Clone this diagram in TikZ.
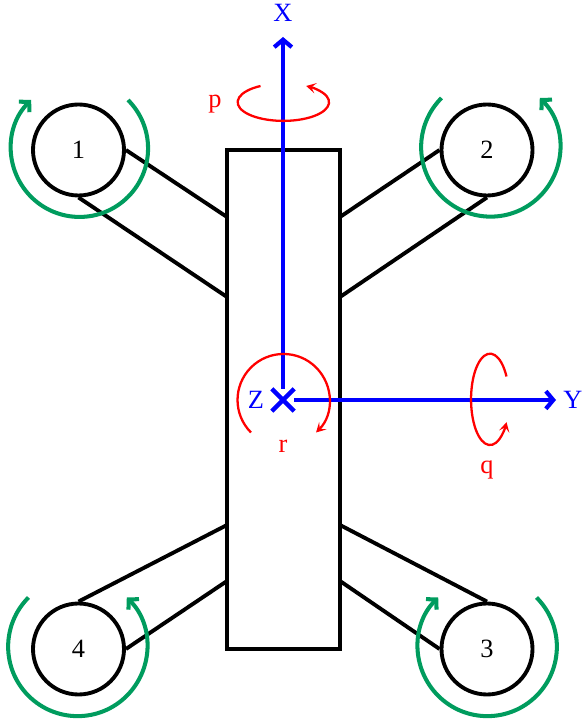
\documentclass[tikz,border=0pt]{standalone}
\usepackage{fontspec}
\setmainfont{Liberation Serif}
\usetikzlibrary{shapes.misc,arrows.meta}
\definecolor{spingreen}{RGB}{0,156,94}

\begin{document}
\begin{tikzpicture}[font=\fontsize{15}{17}\selectfont,
    frame/.style={draw,line width=2.3pt,minimum width=2.26cm,minimum height=9.98cm},
    motor/.style={draw,circle,line width=2.2pt,minimum size=1.82cm,inner sep=0pt},
    arm/.style={line width=2.2pt},
    spin/.style={-{Straight Barb[length=4pt,width=8.5pt]},line width=2.3pt,spingreen},
    axis/.style={-{Straight Barb[length=4.2pt,width=10pt]},line width=2.4pt,blue},
    rate/.style={-{Stealth[length=5.5pt,width=6pt,inset=2.5pt]},line width=1.3pt,red},
    axlab/.style={text=blue,inner sep=0pt},
    ratelab/.style={text=red,inner sep=0pt}]
  \useasboundingbox (0,0) rectangle (11.66,14.46);

  % body and motors
  \node[frame] (body) at (5.67,6.47) {};
  \node[motor] (m1) at (1.57,11.46) {1};
  \node[motor] (m2) at (9.74,11.46) {2};
  \node[motor] (m3) at (9.74,1.48)  {3};
  \node[motor] (m4) at (1.57,1.48)  {4};

  % arm ends on the body
  \coordinate (a1) at (4.54,10.12);
  \coordinate (b1) at (4.54,8.52);
  \coordinate (a2) at (6.80,10.12);
  \coordinate (b2) at (6.80,8.52);
  \coordinate (a3) at (6.80,3.96);
  \coordinate (b3) at (6.80,2.84);
  \coordinate (a4) at (4.54,3.96);
  \coordinate (b4) at (4.54,2.84);

  % --- arms ---
  \draw[arm] (m1.east) -- (a1);
  \draw[arm] (m1.south) -- (b1);
  \draw[arm] (m2.west) -- (a2);
  \draw[arm] (m2.south) -- (b2);
  \draw[arm] (m3.north) -- (a3);
  \draw[arm] (m3.west) -- (b3);
  \draw[arm] (m4.north) -- (a4);
  \draw[arm] (m4.east) -- (b4);

  % --- motor spin ---
  \draw[spin] (2.56,12.46) arc[start angle=45,end angle=-225,radius=1.37];
  \draw[spin] (8.83,12.50) arc[start angle=135,end angle=405,radius=1.39];
  \draw[spin] (10.73,2.51) arc[start angle=45,end angle=-225,radius=1.39];
  \draw[spin] (0.57,2.51) arc[start angle=135,end angle=405,radius=1.39];

  % --- body axes ---
  \node[draw=blue,cross out,line width=2.5pt,minimum size=0.36cm,inner sep=0pt] (axisz) at (5.66,6.46) {};
  \coordinate (tipx) at (5.66,13.72);
  \coordinate (tipy) at (11.12,6.46);
  \draw[axis] (axisz) -- (tipx);
  \draw[axis] (axisz) -- (tipy);
  \node[axlab] (labx) at (5.66,14.2) {X};
  \node[axlab] (laby) at (11.46,6.46) {Y};
  \node[axlab] (labz) at (5.12,6.46) {Z};

  % --- body rates ---
  \draw[rate] (5.21,12.74) arc[start angle=120,end angle=420,x radius=0.914,y radius=0.374];
  \draw[rate] (10.13,6.93) arc[start angle=30,end angle=330,x radius=0.38,y radius=0.914];
  \draw[rate] (5.02,5.81) arc[start angle=225,end angle=-45,radius=0.92];
  \node[ratelab] (labp) at (4.30,12.38) {p};
  \node[ratelab] (labq) at (9.74,5.07) {q};
  \node[ratelab] (labr) at (5.66,5.53) {r};
\end{tikzpicture}
\end{document}
